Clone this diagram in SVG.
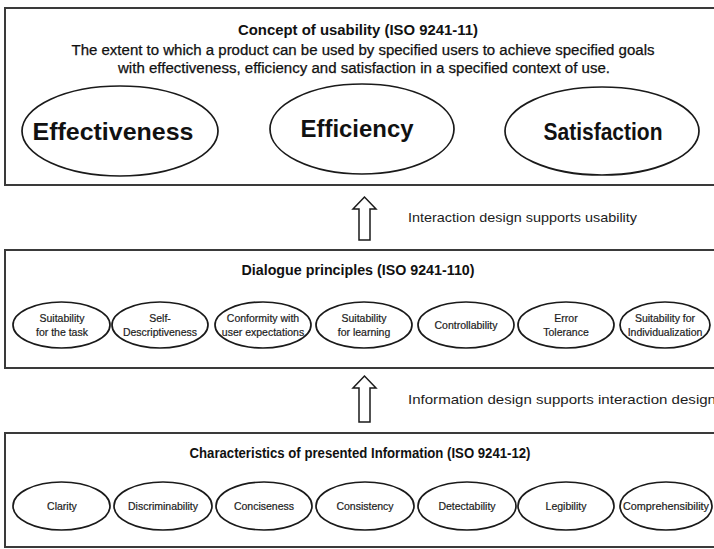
<svg xmlns="http://www.w3.org/2000/svg" width="714" height="549" viewBox="0 0 714 549">
  <style>
    .panel { fill: #ffffff; stroke: #3a3a3a; stroke-width: 2; }
    .oval { fill: #ffffff; stroke: #1a1a1a; stroke-width: 1.7; }
    .big { fill: none; stroke: #1a1a1a; stroke-width: 1.7; }
    text { font-family: "Liberation Sans", Arial, sans-serif; fill: #111111; text-anchor: middle; }
    .title { font-size: 14px; font-weight: bold; }
    .desc { font-size: 14px; stroke: #111111; stroke-width: 0.25; }
    .key { font-size: 24px; font-weight: bold; }
    .small { font-size: 10.5px; fill: #1c1c1c; stroke: #1c1c1c; stroke-width: 0.2; }
    .note { font-size: 13.5px; text-anchor: start; fill: #1c1c1c; }
    .arrow { fill: #ffffff; stroke: #1a1a1a; stroke-width: 1.5; stroke-linejoin: miter; }
  </style>

  <rect width="714" height="549" fill="#ffffff"/>

  <!-- Usability concept panel -->
  <g id="usability">
    <rect class="panel" x="5" y="8" width="720" height="177"/>
    <text class="title" x="358" y="35" textLength="240" lengthAdjust="spacingAndGlyphs">Concept of usability (ISO 9241-11)</text>
    <text class="desc" x="363" y="55" textLength="583" lengthAdjust="spacingAndGlyphs">The extent to which a product can be used by specified users to achieve specified goals</text>
    <text class="desc" x="364" y="73" textLength="492" lengthAdjust="spacingAndGlyphs">with effectiveness, efficiency and satisfaction in a specified context of use.</text>
  </g>
  <g id="effectiveness">
    <ellipse class="big" cx="120" cy="131" rx="98" ry="45"/>
    <text class="key" x="113" y="140" textLength="161" lengthAdjust="spacingAndGlyphs">Effectiveness</text>
  </g>
  <g id="efficiency">
    <ellipse class="big" cx="362" cy="129" rx="92" ry="45"/>
    <text class="key" x="357" y="137" textLength="113" lengthAdjust="spacingAndGlyphs">Efficiency</text>
  </g>
  <g id="satisfaction">
    <ellipse class="big" cx="602" cy="131" rx="97" ry="44"/>
    <text class="key" x="603" y="140" textLength="119" lengthAdjust="spacingAndGlyphs">Satisfaction</text>
  </g>

  <!-- Dialogue principles panel -->
  <g id="dialogue">
    <rect class="panel" x="5" y="250" width="720" height="118"/>
    <text class="title" x="358" y="275" textLength="233" lengthAdjust="spacingAndGlyphs">Dialogue principles (ISO 9241-110)</text>
  </g>
  <g id="d-task">
    <ellipse class="oval" cx="61.5" cy="325" rx="48.5" ry="23"/>
    <text class="small" x="62" y="322">Suitability</text>
    <text class="small" x="62" y="336">for the task</text>
  </g>
  <g id="d-self">
    <ellipse class="oval" cx="160" cy="325" rx="48" ry="23"/>
    <text class="small" x="160" y="322">Self-</text>
    <text class="small" x="160" y="336">Descriptiveness</text>
  </g>
  <g id="d-conformity">
    <ellipse class="oval" cx="263" cy="325" rx="48" ry="23"/>
    <text class="small" x="263" y="322">Conformity with</text>
    <text class="small" x="263" y="336">user expectations</text>
  </g>
  <g id="d-learning">
    <ellipse class="oval" cx="364" cy="325" rx="48" ry="23"/>
    <text class="small" x="364" y="322">Suitability</text>
    <text class="small" x="364" y="336">for learning</text>
  </g>
  <g id="d-control">
    <ellipse class="oval" cx="466" cy="325" rx="48" ry="23"/>
    <text class="small" x="466" y="329">Controllability</text>
  </g>
  <g id="d-error">
    <ellipse class="oval" cx="566" cy="325" rx="48" ry="23"/>
    <text class="small" x="566" y="322">Error</text>
    <text class="small" x="566" y="336">Tolerance</text>
  </g>
  <g id="d-individual">
    <ellipse class="oval" cx="665" cy="325" rx="45" ry="23"/>
    <text class="small" x="665" y="322">Suitability for</text>
    <text class="small" x="665" y="336">Individualization</text>
  </g>

  <!-- Information characteristics panel -->
  <g id="information">
    <rect class="panel" x="5" y="433" width="720" height="114"/>
    <text class="title" x="360" y="458" textLength="341" lengthAdjust="spacingAndGlyphs">Characteristics of presented Information (ISO 9241-12)</text>
  </g>
  <g id="i-clarity">
    <ellipse class="oval" cx="61.5" cy="506" rx="48.5" ry="24"/>
    <text class="small" x="62" y="510">Clarity</text>
  </g>
  <g id="i-discrim">
    <ellipse class="oval" cx="163" cy="506" rx="49" ry="24"/>
    <text class="small" x="163" y="510">Discriminability</text>
  </g>
  <g id="i-concise">
    <ellipse class="oval" cx="264" cy="506" rx="48" ry="24"/>
    <text class="small" x="264" y="510">Conciseness</text>
  </g>
  <g id="i-consist">
    <ellipse class="oval" cx="365" cy="506" rx="49" ry="24"/>
    <text class="small" x="365" y="510">Consistency</text>
  </g>
  <g id="i-detect">
    <ellipse class="oval" cx="467" cy="506" rx="49" ry="24"/>
    <text class="small" x="467" y="510">Detectability</text>
  </g>
  <g id="i-legible">
    <ellipse class="oval" cx="566" cy="506" rx="48" ry="24"/>
    <text class="small" x="566" y="510">Legibility</text>
  </g>
  <g id="i-comprehend">
    <ellipse class="oval" cx="666" cy="506" rx="46" ry="24"/>
    <text class="small" x="666" y="510" textLength="86" lengthAdjust="spacingAndGlyphs">Comprehensibility</text>
  </g>

  <!-- Hollow "supports" arrows between panels -->
  <g id="connectors">
    <polygon class="arrow" points="364.5,197 353,209 359,209 359,240 370,240 370,209 376,209"/>
    <text class="note" x="408" y="222" textLength="229" lengthAdjust="spacingAndGlyphs">Interaction design supports usability</text>
    <polygon class="arrow" points="364.5,376 353,388 359,388 359,422 370,422 370,388 376,388"/>
    <text class="note" x="408" y="404" textLength="308" lengthAdjust="spacingAndGlyphs">Information design supports interaction design</text>
  </g>
</svg>
